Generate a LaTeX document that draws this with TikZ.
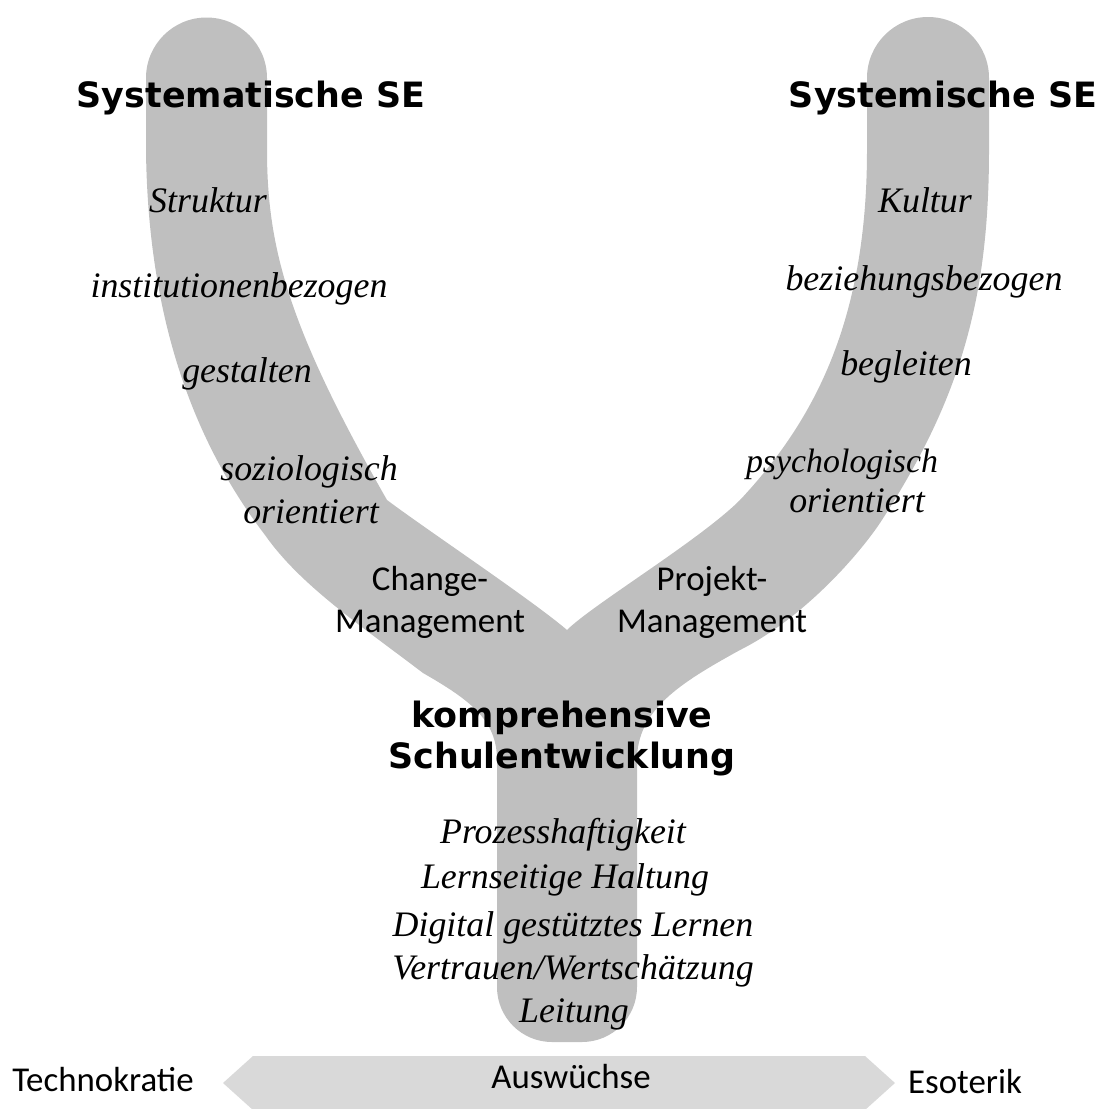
\documentclass[tikz,border=0pt]{standalone}
\usepackage{fontspec}
\setmainfont{Liberation Serif}
\newfontfamily\calibrifont{Carlito}
\newfontfamily\heavyfont{DejaVu Sans}
\definecolor{bandgray}{HTML}{BFBFBF}
\definecolor{arrowgray}{HTML}{D9D9D9}
\begin{document}
\begin{tikzpicture}[x=1bp,y=-1bp,
  heading/.style={anchor=base,inner sep=0pt,font=\fontsize{35}{40}\selectfont\heavyfont\bfseries},
  keyword/.style={anchor=base,inner sep=0pt,font=\fontsize{36}{42}\selectfont\itshape},
  plain/.style={anchor=base,inner sep=0pt,font=\fontsize{35}{42}\selectfont\calibrifont}]%
\useasboundingbox (0,0) rectangle (1101,1109);
% Y-shaped band
\fill[bandgray] (146,78) arc[start angle=180,end angle=360,radius=60.5]
 --(267,150)
 ..controls (267,250) and (290,330) ..(387,500)
 ..controls (427,530) and (532,600) ..(567,630)
 ..controls (592,605) and (700,540) ..(740,500)
 ..controls (815,420) and (867,320) ..(867,150)
 --(867,78) arc[start angle=180,end angle=360,radius=61]
 --(989,150)
 ..controls (989,300) and (960,400) ..(880,523)
 ..controls (855,560) and (800,620) ..(740,650)
 ..controls (680,683) and (637,710) ..(637,760)
 --(637,987) arc[start angle=0,end angle=90,radius=55]
 --(552,1042) arc[start angle=90,end angle=180,radius=55]
 --(497,760)
 ..controls (497,720) and (470,700) ..(423,673)
 ..controls (360,625) and (300,585) ..(265,535)
 ..controls (200,450) and (148,330) ..(146,150)
 --cycle;
% double arrow at the bottom
\fill[arrowgray] (253,1056) --(865,1056) --(895,1083) --(865,1110)
 --(253,1110) --(223,1083) --cycle;
\node[heading] (sysmat) at (251,107) {Systematische SE};
\node[heading] (sysmis) at (943,107) {Systemische SE};
\node[keyword] (struktur) at (208,212) {Struktur};
\node[keyword] (instbez) at (239,297) {institutionenbezogen};
\node[keyword] (gestalt) at (247,382) {gestalten};
\node[keyword] (soziol) at (309,480) {soziologisch};
\node[keyword] (soziolor) at (311,523) {orientiert};
\node[plain] (change) at (430,590) {Change-};
\node[plain] (changemg) at (430,632) {Management};
\node[keyword] (kultur) at (925,212) {Kultur};
\node[keyword] (bezbez) at (924,290) {beziehungsbezogen};
\node[keyword] (begleit) at (906,375) {begleiten};
\node[keyword,font=\fontsize{34}{40}\selectfont\itshape] (psych) at (842,472) {psychologisch};
\node[keyword] (psychor) at (857,512) {orientiert};
\node[plain] (projekt) at (712,590) {Projekt-};
\node[plain] (projektmg) at (712,632) {Management};
\node[heading] (kompr) at (562,727) {komprehensive};
\node[heading] (schulent) at (562,768) {Schulentwicklung};
\node[keyword] (prozess) at (563,843) {Prozesshaftigkeit};
\node[keyword] (lernseit) at (565,888) {Lernseitige Haltung};
\node[keyword] (digital) at (573,936) {Digital gestütztes Lernen};
\node[keyword] (vertrauen) at (573,979) {Vertrauen/Wertschätzung};
\node[keyword] (leitung) at (574,1022) {Leitung};
\node[plain] (technokr) at (103,1091) {Technokratie};
\node[plain] (auswuchs) at (571,1088) {Auswüchse};
\node[plain] (esoterik) at (965,1093) {Esoterik};
\end{tikzpicture}
\end{document}
